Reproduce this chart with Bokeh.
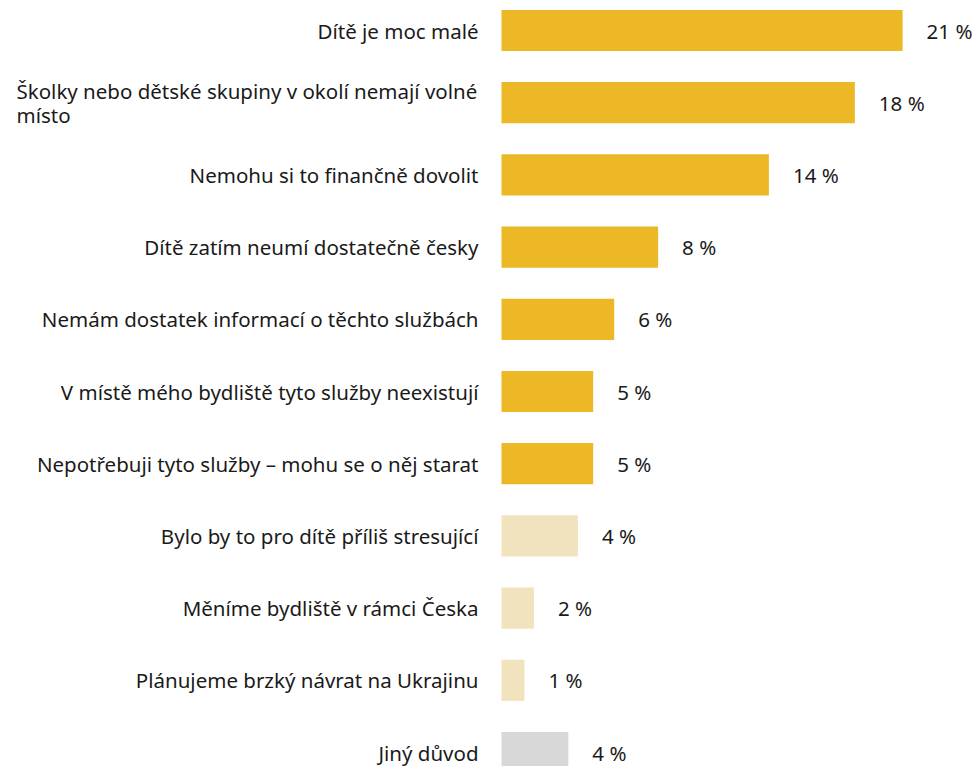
from bokeh.plotting import figure
from bokeh.models import ColumnDataSource, Range1d
from bokeh.core.properties import value
from bokeh.embed import file_html
from bokeh.resources import INLINE

categories = [
    "Dítě je moc malé",
    "Školky nebo dětské skupiny v okolí nemají volné\nmísto",
    "Nemohu si to finančně dovolit",
    "Dítě zatím neumí dostatečně česky",
    "Nemám dostatek informací o těchto službách",
    "V místě mého bydliště tyto služby neexistují",
    "Nepotřebuji tyto služby – mohu se o něj starat",
    "Bylo by to pro dítě příliš stresující",
    "Měníme bydliště v rámci Česka",
    "Plánujeme brzký návrat na Ukrajinu",
    "Jiný důvod",
]
values = [21.0, 18.5, 14.0, 8.2, 5.9, 4.8, 4.8, 4.0, 1.7, 1.2, 3.5]
value_labels = ["21 %", "18 %", "14 %", "8 %", "6 %", "5 %", "5 %", "4 %", "2 %", "1 %", "4 %"]
groups = ["main"] * 7 + ["minor"] * 3 + ["other"]

color_map = {"main": "#ECB826", "minor": "#F2E3BF", "other": "#D8D8D8"}
colors = [color_map[g] for g in groups]

W, H = 979, 766
px_per_unit = 19.1
x0_px = 501
xmin = -x0_px / px_per_unit
xmax = (W - x0_px) / px_per_unit
row = 72.2
first = 30.0
ytop = -first / row
ybot = (H - first) / row

# wrapped labels are left-justified at the left edge of the label column
label_gap = 23
wrapped_width = 462
aligns = ["left" if "\n" in c else "right" for c in categories]
offsets = [-(label_gap + wrapped_width) if "\n" in c else -label_gap for c in categories]

src = ColumnDataSource(dict(
    y=list(range(len(categories))),
    v=values,
    cat=categories,
    lab=value_labels,
    color=colors,
    align=aligns,
    xoff=offsets,
))

p = figure(width=W, height=H, output_backend="svg", toolbar_location=None,
           x_range=Range1d(xmin, xmax), y_range=Range1d(ybot, ytop),
           min_border=0, min_border_left=0, min_border_right=0,
           min_border_top=0, min_border_bottom=0)
p.axis.visible = False
p.grid.visible = False
p.outline_line_color = None
p.background_fill_color = "white"
p.border_fill_color = "white"

p.hbar(y="y", left=0, right="v", height=0.57, fill_color="color", line_color=None, source=src)

p.text(x=0, y="y", text="cat", source=src, x_offset="xoff", text_align="align",
       text_baseline="middle", text_font=value("Noto Sans"), text_font_size="20.5px",
       text_color="#1a1a1a", text_line_height=0.86)
p.text(x="v", y="y", text="lab", source=src, x_offset=24, text_align="left",
       text_baseline="middle", text_font=value("Noto Sans"), text_font_size="20.5px",
       text_color="#1a1a1a")

open("out.html", "w").write(file_html(p, INLINE))
